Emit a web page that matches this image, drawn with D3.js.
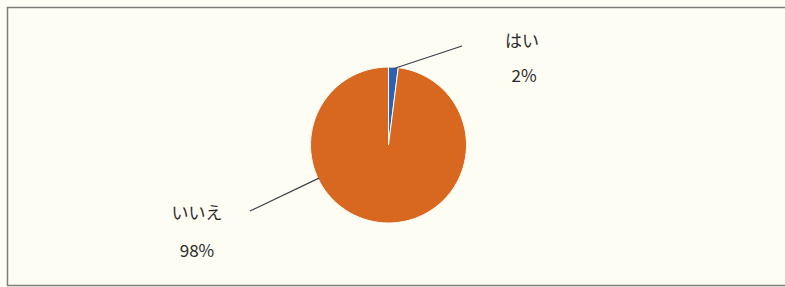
<!DOCTYPE html>
<html><head><meta charset="utf-8">
<script src="https://cdn.jsdelivr.net/npm/d3@7"></script>
<style>
html,body{margin:0;padding:0;background:#fefdf4;}
text{font-family:"Noto Sans CJK JP","Noto Sans",sans-serif;}
</style></head>
<body>
<svg id="c" width="785" height="287"></svg>
<script>
const categories = ["はい", "いいえ"];
const values = [2, 98];
const valueLabels = ["2%", "98%"];
const colors = ["#2e60b4", "#d8671f"];

const svg = d3.select("#c");
svg.append("rect").attr("x",0).attr("y",0).attr("width",785).attr("height",287).attr("fill","#fefdf4");
svg.append("path").attr("d","M785,7.5 H7.5 V285.5 H785").attr("fill","none").attr("stroke","#7d7d7a").attr("stroke-width",1.5);

const cx = 388.5, cy = 145, r = 78;
const data = categories.map((c,i)=>({cat:c, value:values[i], label:valueLabels[i], color:colors[i]}));
const pie = d3.pie().value(d=>d.value).sort(null);
const arc = d3.arc().innerRadius(0).outerRadius(r);
const arcs = pie(data);
const g = svg.append("g").attr("transform",`translate(${cx},${cy})`);
g.selectAll("path").data(arcs).join("path")
  .attr("d",arc).attr("fill",d=>d.data.color)
  .attr("stroke","#fefdf4").attr("stroke-width",1);

const layout = [
  {lineEnd:[462,46], nameXY:[522,47], valXY:[524,82]},
  {lineEnd:[250,211], nameXY:[197,219], valXY:[197,257]}
];
arcs.forEach((a,i)=>{
  const mid = (a.startAngle+a.endAngle)/2;
  const L = layout[i];
  let sx, sy;
  if(i===0){ sx = cx + Math.sin(mid)*r*0.98; sy = cy - Math.cos(mid)*r*0.98; }
  else { const ang = Math.atan2(L.lineEnd[0]-cx, -(L.lineEnd[1]-cy)); sx = cx + Math.sin(ang)*(r-1); sy = cy - Math.cos(ang)*(r-1); }
  svg.append("line").attr("x1",sx).attr("y1",sy).attr("x2",L.lineEnd[0]).attr("y2",L.lineEnd[1])
    .attr("stroke","#3a3f4a").attr("stroke-width",1.2);
  svg.append("text").attr("x",L.nameXY[0]).attr("y",L.nameXY[1]).attr("text-anchor","middle")
    .attr("font-size",17).attr("fill","#2b2b2b").text(a.data.cat);
  svg.append("text").attr("x",L.valXY[0]).attr("y",L.valXY[1]).attr("text-anchor","middle")
    .attr("font-size",17).attr("fill","#2b2b2b").text(a.data.label);
});
</script>
</body></html>
